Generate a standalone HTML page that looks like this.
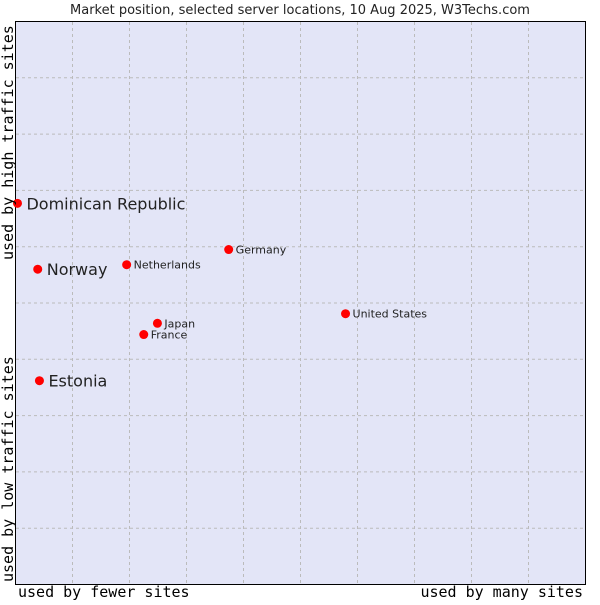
<!DOCTYPE html>
<html><head><meta charset="utf-8"><style>
body{margin:0;background:#fff;width:600px;height:600px;overflow:hidden}
svg text{font-family:"DejaVu Sans","Liberation Sans",sans-serif;fill:#222}
.mono{font-family:"DejaVu Sans Mono","Liberation Mono",monospace;font-size:15px;fill:#000}
</style></head><body>
<svg id="chart" width="600" height="600">
<text x="300" y="14" text-anchor="middle" font-size="13">Market position, selected server locations, 10 Aug 2025, W3Techs.com</text>
<rect x="15.5" y="21.5" width="570" height="563" fill="#e3e5f7" stroke="#000"/>
<g id="grid"></g>
<g id="points"></g>
<text class="mono" x="18" y="597">used by fewer sites</text>
<text class="mono" x="583" y="597" text-anchor="end">used by many sites</text>
<text class="mono" transform="translate(13,260) rotate(-90)">used by high traffic sites</text>
<text class="mono" transform="translate(13,582) rotate(-90)">used by low traffic sites</text>
</svg>
<script>
const countries=["Dominican Republic","Norway","Netherlands","Germany","United States","Japan","France","Estonia"];
const xValues=[0.035,0.39,1.95,3.74,5.79,2.49,2.25,0.42];
const yValues=[6.77,5.6,5.68,5.95,4.81,4.64,4.44,3.62];
const highlighted=[true,true,false,false,false,false,false,true];
const gridSteps=[1,2,3,4,5,6,7,8,9];
const NS="http://www.w3.org/2000/svg";
const X=v=>15.5+57*v, Y=v=>584.5-56.3*v;
const grid=document.getElementById('grid'), pts=document.getElementById('points');
gridSteps.forEach(s=>{
  const v=document.createElementNS(NS,'line');
  v.setAttribute('x1',X(s));v.setAttribute('x2',X(s));v.setAttribute('y1',22);v.setAttribute('y2',584);
  v.setAttribute('stroke','#bbb');v.setAttribute('stroke-dasharray','3,3');
  
  
  grid.appendChild(v);
  const h=document.createElementNS(NS,'line');
  h.setAttribute('x1',16);h.setAttribute('x2',585);h.setAttribute('y1',Y(s));h.setAttribute('y2',Y(s));
  h.setAttribute('stroke','#bbb');h.setAttribute('stroke-dasharray','3,3');
  
  
  grid.appendChild(h);
});
countries.forEach((c,i)=>{
  const cx=X(xValues[i]), cy=Y(yValues[i]);
  const m=document.createElementNS(NS,'circle');
  m.setAttribute('cx',cx);m.setAttribute('cy',cy);m.setAttribute('r',4.5);m.setAttribute('fill','#f00');
  
  
  pts.appendChild(m);
  const t=document.createElementNS(NS,'text');
  const big=highlighted[i];
  t.setAttribute('x',cx+(big?9:7));t.setAttribute('y',cy+(big?6:4));
  t.setAttribute('font-size',big?16:11);
  t.textContent=c;
  
  
  pts.appendChild(t);
});
</script>
</body></html>
